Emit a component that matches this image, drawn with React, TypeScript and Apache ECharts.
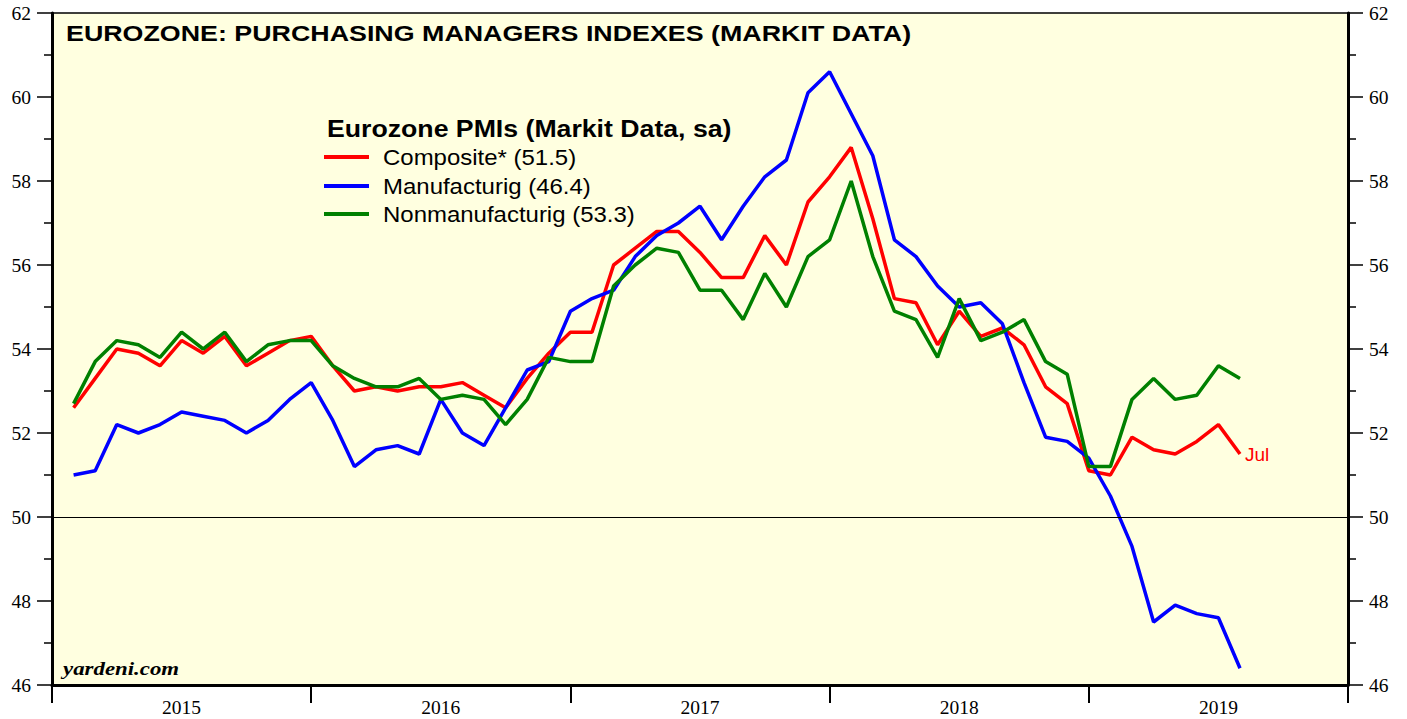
import React, { useEffect, useRef } from 'react';
import * as echarts from 'echarts';

const years = ['2015', '2016', '2017', '2018', '2019'];

// Monthly values, Jan 2015 .. Jul 2019
const composite = [
  52.6, 53.3, 54.0, 53.9, 53.6, 54.2, 53.9, 54.3, 53.6, 53.9, 54.2, 54.3,
  53.6, 53.0, 53.1, 53.0, 53.1, 53.1, 53.2, 52.9, 52.6, 53.3, 53.9, 54.4,
  54.4, 56.0, 56.4, 56.8, 56.8, 56.3, 55.7, 55.7, 56.7, 56.0, 57.5, 58.1,
  58.8, 57.1, 55.2, 55.1, 54.1, 54.9, 54.3, 54.5, 54.1, 53.1, 52.7, 51.1,
  51.0, 51.9, 51.6, 51.5, 51.8, 52.2, 51.5,
];
const manufacturing = [
  51.0, 51.1, 52.2, 52.0, 52.2, 52.5, 52.4, 52.3, 52.0, 52.3, 52.8, 53.2,
  52.3, 51.2, 51.6, 51.7, 51.5, 52.8, 52.0, 51.7, 52.6, 53.5, 53.7, 54.9,
  55.2, 55.4, 56.2, 56.7, 57.0, 57.4, 56.6, 57.4, 58.1, 58.5, 60.1, 60.6,
  59.6, 58.6, 56.6, 56.2, 55.5, 55.0, 55.1, 54.6, 53.2, 51.9, 51.8, 51.4,
  50.5, 49.3, 47.5, 47.9, 47.7, 47.6, 46.4,
];
const nonmanufacturing = [
  52.7, 53.7, 54.2, 54.1, 53.8, 54.4, 54.0, 54.4, 53.7, 54.1, 54.2, 54.2,
  53.6, 53.3, 53.1, 53.1, 53.3, 52.8, 52.9, 52.8, 52.2, 52.8, 53.8, 53.7,
  53.7, 55.5, 56.0, 56.4, 56.3, 55.4, 55.4, 54.7, 55.8, 55.0, 56.2, 56.6,
  58.0, 56.2, 54.9, 54.7, 53.8, 55.2, 54.2, 54.4, 54.7, 53.7, 53.4, 51.2,
  51.2, 52.8, 53.3, 52.8, 52.9, 53.6, 53.3,
];

const seriesNames = ['Composite* (51.5)', 'Manufacturig (46.4)', 'Nonmanufacturig (53.3)'];
const seriesColors = ['#FF0000', '#0000FF', '#008000'];
const yTicks = { min: 46, max: 62, interval: 2 };

// month-end positions: month i ends at i+1 months after Jan 2015
const toPoints = (arr: number[]) => arr.map((v, i) => [i + 1, v]);

export default function App() {
  const ref = useRef<HTMLDivElement>(null);

  useEffect(() => {
    if (!ref.current) return;
    const chart = echarts.init(ref.current, null, { renderer: 'svg' });

    const yAxisBase = (position: 'left' | 'right') => ({
      type: 'value',
      position,
      min: yTicks.min,
      max: yTicks.max,
      interval: yTicks.interval,
      axisLine: { show: true, lineStyle: { color: '#000', width: 3 } },
      axisTick: { show: true, length: 15, lineStyle: { color: '#000', width: 1.5 } },
      minorTick: { show: true, splitNumber: 2, length: 8, lineStyle: { color: '#000', width: 1.5 } },
      splitLine: { show: false },
      axisLabel: {
        color: '#000',
        fontFamily: 'Liberation Serif',
        fontSize: 19.5,
        margin: 21,
      },
    });

    const legendY = [157, 186, 214];
    const legendGraphics: any[] = [];
    seriesNames.forEach((name, k) => {
      legendGraphics.push({
        type: 'line',
        shape: { x1: 324, y1: legendY[k], x2: 369, y2: legendY[k] },
        style: { stroke: seriesColors[k], lineWidth: 4 },
        z: 100,
      });
      legendGraphics.push({
        type: 'text',
        x: 383,
        y: legendY[k],
        scaleX: 1.09,
        style: {
          text: name,
          font: '22px "Liberation Sans"',
          fill: '#000',
          align: 'left',
          verticalAlign: 'middle',
        },
        z: 100,
      });
    });

    const option: any = {
      animation: false,
      textStyle: { fontFamily: 'Liberation Sans' },
      grid: {
        left: 52,
        right: 59,
        top: 13,
        bottom: 34,
        show: true,
        backgroundColor: '#FFFFE0',
        borderColor: '#000',
        borderWidth: 1.5,
      },
      xAxis: [
        { type: 'value', min: 0, max: 60, show: false },
        {
          type: 'category',
          data: years,
          position: 'bottom',
          boundaryGap: true,
          axisLine: { show: true, lineStyle: { color: '#000', width: 3 } },
          axisTick: { show: true, alignWithLabel: false, length: 18, lineStyle: { color: '#000', width: 2 } },
          axisLabel: { color: '#000', fontFamily: 'Liberation Serif', fontSize: 19.5, margin: 12 },
          splitLine: { show: false },
        },
      ],
      yAxis: [yAxisBase('left'), yAxisBase('right')],
      graphic: [
        {
          type: 'text',
          x: 66,
          y: 33.5,
          scaleX: 1.22,
          style: {
            text: 'EUROZONE: PURCHASING MANAGERS INDEXES (MARKIT DATA)',
            font: 'bold 22px "Liberation Sans"',
            fill: '#000',
            align: 'left',
            verticalAlign: 'middle',
          },
          z: 100,
        },
        {
          type: 'text',
          x: 327,
          y: 128.5,
          scaleX: 1.16,
          style: {
            text: 'Eurozone PMIs (Markit Data, sa)',
            font: 'bold 23px "Liberation Sans"',
            fill: '#000',
            align: 'left',
            verticalAlign: 'middle',
          },
          z: 100,
        },
        ...legendGraphics,
        {
          type: 'text',
          x: 63,
          y: 669,
          scaleX: 1.27,
          style: {
            text: 'yardeni.com',
            font: 'italic bold 18px "Liberation Serif"',
            fill: '#000',
            align: 'left',
            verticalAlign: 'middle',
          },
          z: 100,
        },
      ],
      series: [
        {
          name: seriesNames[0],
          type: 'line',
          xAxisIndex: 0,
          yAxisIndex: 0,
          data: toPoints(composite),
          showSymbol: false,
          symbol: 'none',
          lineStyle: { color: seriesColors[0], width: 3.5 },
          itemStyle: { color: seriesColors[0] },
          endLabel: {
            show: true,
            formatter: 'Jul',
            color: '#FF0000',
            fontSize: 19,
            fontFamily: 'Liberation Sans',
            distance: 5,
          },
          markLine: {
            silent: true,
            symbol: 'none',
            label: { show: false },
            lineStyle: { color: '#000', width: 1, type: 'solid' },
            data: [{ yAxis: 50 }],
          },
          z: 3,
        },
        {
          name: seriesNames[1],
          type: 'line',
          xAxisIndex: 0,
          yAxisIndex: 0,
          data: toPoints(manufacturing),
          showSymbol: false,
          symbol: 'none',
          lineStyle: { color: seriesColors[1], width: 3.5 },
          itemStyle: { color: seriesColors[1] },
          z: 4,
        },
        {
          name: seriesNames[2],
          type: 'line',
          xAxisIndex: 0,
          yAxisIndex: 0,
          data: toPoints(nonmanufacturing),
          showSymbol: false,
          symbol: 'none',
          lineStyle: { color: seriesColors[2], width: 3.5 },
          itemStyle: { color: seriesColors[2] },
          z: 5,
        },
      ],
    };

    chart.setOption(option);
    return () => chart.dispose();
  }, []);

  return (
    <div
      ref={ref}
      style={{ position: 'absolute', left: 0, top: 0, width: 1407, height: 719, background: '#fff' }}
    />
  );
}
